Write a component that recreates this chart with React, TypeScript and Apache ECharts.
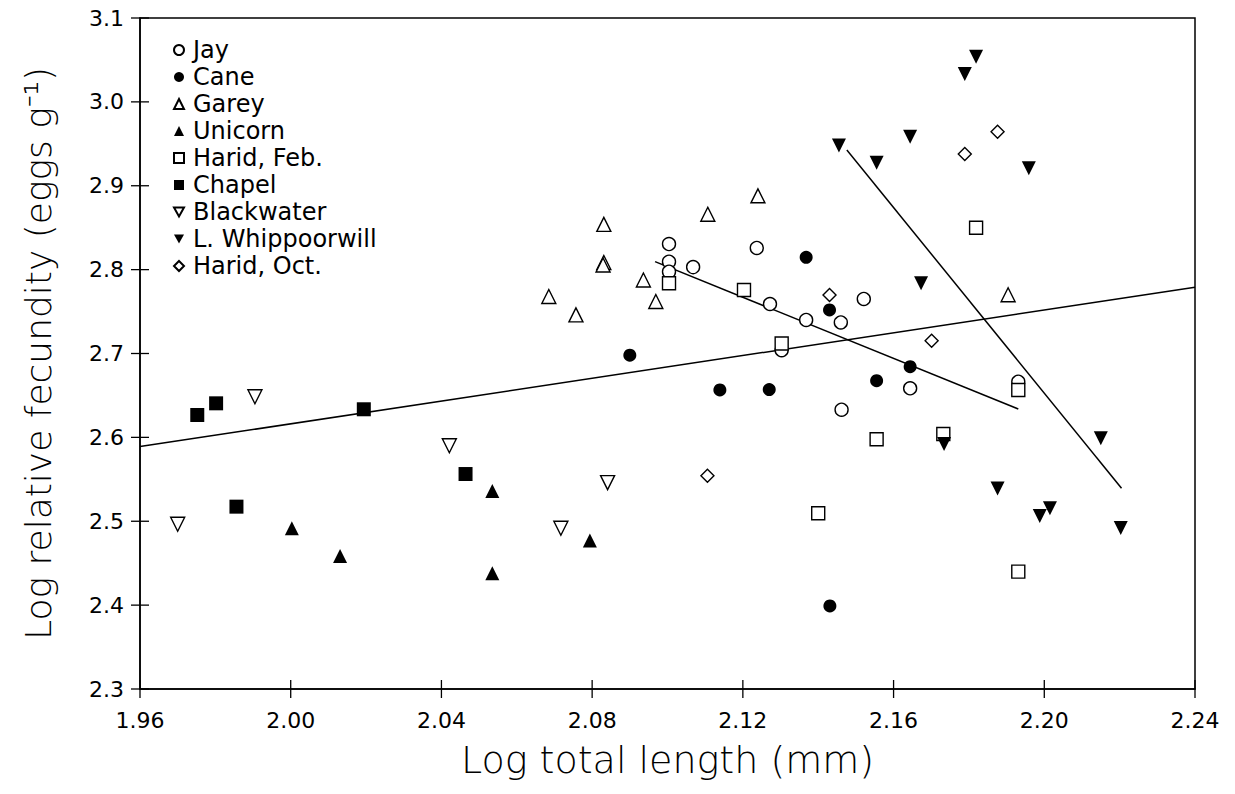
import React, { useEffect, useRef } from "react";
import * as echarts from "echarts";

// ---- data (log total length, log relative fecundity) ----
const jay = [[2.1004, 2.8305], [2.1004, 2.8095], [2.1004, 2.7975], [2.1068, 2.803], [2.1237, 2.8258], [2.1272, 2.759], [2.1368, 2.74], [2.1521, 2.765], [2.146, 2.737], [2.1303, 2.704], [2.1462, 2.633], [2.1644, 2.6585], [2.1931, 2.6664]];
const cane = [[2.09, 2.698], [2.1368, 2.8147], [2.143, 2.752], [2.1139, 2.6565], [2.127, 2.657], [2.1555, 2.6676], [2.1644, 2.6843], [2.1431, 2.399]];
const garey = [[2.0831, 2.854], [2.0831, 2.8085], [2.0829, 2.8055], [2.0936, 2.7876], [2.0685, 2.768], [2.0757, 2.746], [2.0969, 2.762], [2.1107, 2.866], [2.124, 2.888], [2.1904, 2.77]];
const unicorn = [[2.0003, 2.4916], [2.0131, 2.4586], [2.0535, 2.536], [2.0535, 2.438], [2.0794, 2.477]];
const haridFeb = [[2.1004, 2.7837], [2.1203, 2.7757], [2.1303, 2.712], [2.1555, 2.5977], [2.14, 2.5095], [2.1732, 2.604], [2.1931, 2.6565], [2.1931, 2.4399], [2.1819, 2.85]];
const chapel = [[1.9752, 2.6267], [1.9802, 2.6406], [1.9856, 2.5174], [2.0194, 2.6335], [2.0464, 2.5563]];
const blackwater = [[1.97, 2.4964], [1.9905, 2.6485], [2.0421, 2.59], [2.0717, 2.4916], [2.0841, 2.546]];
const whippoorwill = [[2.1819, 3.0539], [2.1789, 3.0332], [2.1644, 2.9585], [2.1555, 2.9275], [2.1959, 2.9208], [2.1673, 2.7837], [2.1455, 2.948], [2.1734, 2.592], [2.215, 2.599], [2.1876, 2.539], [2.2015, 2.5154], [2.1988, 2.5063], [2.2203, 2.492]];
const haridOct = [[2.1876, 2.9645], [2.1789, 2.9379], [2.143, 2.7697], [2.1701, 2.7153], [2.1106, 2.5543]];

// regression lines
const overallLine = [[1.96, 2.589], [2.24, 2.779]];
const jayLine = [[2.0967, 2.8095], [2.1931, 2.6338]];
const whipLine = [[2.1476, 2.9426], [2.2205, 2.5393]];

// line annotations
const lineLabels = [
  { name: "Jay", value: [2.1113, 2.7439] },
  { name: "L.Whippoorwill", value: [2.1864, 2.8878] },
];

// axis ticks
const X_MIN = 1.96, X_MAX = 2.24, X_STEP = 0.04;
const Y_MIN = 2.3, Y_MAX = 3.1, Y_STEP = 0.1;
const xTicks = [1.96, 2.0, 2.04, 2.08, 2.12, 2.16, 2.2, 2.24];
const yTicks = [2.3, 2.4, 2.5, 2.6, 2.7, 2.8, 2.9, 3.0, 3.1];

const legendNames = ["Jay", "Cane", "Garey", "Unicorn", "Harid, Feb.", "Chapel", "Blackwater", "L. Whippoorwill", "Harid, Oct."];
const DOWN_TRI = "path://M0,0L10,0L5,9Z";

const FONT = "'DejaVu Sans', 'Noto Sans', sans-serif";
const TICK = 9;

export default function App() {
  const ref = useRef<HTMLDivElement>(null);
  useEffect(() => {
    if (!ref.current) return;
    const chart = echarts.init(ref.current, null, { renderer: "svg" });
    const open = { color: "#fff", borderColor: "#000", borderWidth: 1.4, opacity: 1 };
    const filled = { color: "#000", borderColor: "#000", borderWidth: 0, opacity: 1 };
    const sc = (name: string, data: number[][], symbol: string, size: number, style: any, rotate = 0) => ({
      name,
      type: "scatter",
      data,
      symbol,
      symbolSize: size,
      symbolRotate: rotate,
      itemStyle: style,
      z: 3,
    });
    const ln = (data: number[][]) => ({
      type: "line",
      data,
      showSymbol: false,
      symbol: "none",
      lineStyle: { color: "#000", width: 1.5 },
      silent: true,
      z: 2,
    });
    const tickSeries = (data: number[][], vertical: boolean) => ({
      type: "custom",
      data,
      silent: true,
      clip: false,
      z: 5,
      renderItem: (_params: any, api: any) => {
        const p = api.coord([api.value(0), api.value(1)]);
        const shape = vertical
          ? { x1: p[0], y1: p[1] - TICK, x2: p[0], y2: p[1] + TICK }
          : { x1: p[0] - TICK, y1: p[1], x2: p[0] + TICK, y2: p[1] };
        return { type: "line", shape, style: { stroke: "#000", lineWidth: 1.3 } };
      },
    });
    chart.setOption({
      animation: false,
      backgroundColor: "#fff",
      grid: { left: 140, top: 18, width: 1055, height: 671, show: true, borderColor: "#000", borderWidth: 1.5, backgroundColor: "transparent" },
      legend: {
        orient: "vertical",
        left: 168,
        top: 33,
        itemWidth: 10,
        itemHeight: 10,
        itemGap: 3,
        data: legendNames.map((n) =>
          n === "Blackwater" || n === "L. Whippoorwill" ? { name: n, icon: DOWN_TRI } : { name: n }
        ),
        textStyle: { fontFamily: FONT, fontSize: 24, color: "#000", lineHeight: 22, padding: [0, 0, 0, 4] },
        selectedMode: false,
      },
      xAxis: {
        type: "value",
        min: X_MIN,
        max: X_MAX,
        interval: X_STEP,
        name: "Log total length (mm)",
        nameLocation: "middle",
        nameGap: 52,
        nameTextStyle: { fontFamily: FONT, fontSize: 38, color: "#000", fontWeight: 300 },
        axisLine: { show: true, lineStyle: { color: "#000", width: 1.5 } },
        axisTick: { show: false },
        axisLabel: { margin: 20, fontFamily: FONT, fontSize: 22, color: "#000", formatter: (v: number) => v.toFixed(2) },
        splitLine: { show: false },
      },
      yAxis: {
        type: "value",
        min: Y_MIN,
        max: Y_MAX,
        interval: Y_STEP,
        name: "Log relative fecundity (eggs g⁻¹)",
        nameLocation: "middle",
        nameGap: 84,
        nameTextStyle: { fontFamily: FONT, fontSize: 36, color: "#000", fontWeight: 300 },
        axisLine: { show: true, lineStyle: { color: "#000", width: 1.5 } },
        axisTick: { show: false },
        axisLabel: { margin: 16, fontFamily: FONT, fontSize: 22, color: "#000", formatter: (v: number) => v.toFixed(1) },
        splitLine: { show: false },
      },
      series: [
        ln(overallLine),
        ln(jayLine),
        ln(whipLine),
        tickSeries(xTicks.map((v) => [v, Y_MIN]), true),
        tickSeries(yTicks.map((v) => [X_MIN, v]), false),
        sc("Jay", jay, "circle", 13, open),
        sc("Cane", cane, "circle", 13, filled),
        sc("Garey", garey, "triangle", 14, open),
        sc("Unicorn", unicorn, "triangle", 14, filled),
        sc("Harid, Feb.", haridFeb, "rect", 13, open),
        sc("Chapel", chapel, "rect", 14, filled),
        sc("Blackwater", blackwater, "triangle", 14, open, 180),
        sc("L. Whippoorwill", whippoorwill, "triangle", 14, filled, 180),
        sc("Harid, Oct.", haridOct, "diamond", 13, open),
        {
          type: "scatter",
          data: lineLabels,
          symbolSize: 1,
          itemStyle: { opacity: 0 },
          silent: true,
          label: {
            show: true,
            position: [0, 0],
            align: "center",
            verticalAlign: "middle",
            formatter: (p: any) => p.name,
            fontFamily: FONT,
            fontSize: 23,
            color: "#000",
          },
          z: 4,
        },
      ],
    });
    return () => chart.dispose();
  }, []);
  return <div ref={ref} style={{ position: "absolute", left: 0, top: 0, width: 1235, height: 794 }} />;
}
